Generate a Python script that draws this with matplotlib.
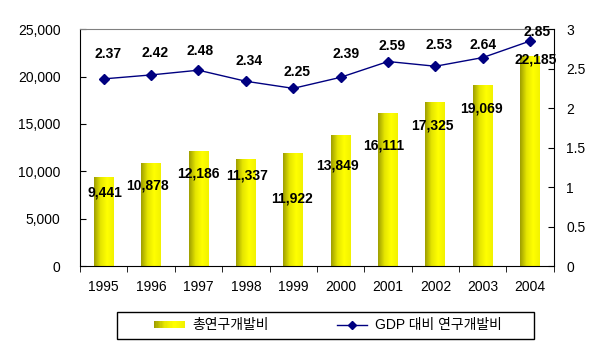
import numpy as np
import matplotlib.pyplot as plt
from matplotlib.colors import LinearSegmentedColormap
from matplotlib.legend_handler import HandlerBase
from matplotlib.patches import Rectangle
from matplotlib.lines import Line2D

plt.rcParams['font.family'] = ['Liberation Sans', 'Noto Sans CJK KR', 'DejaVu Sans']

# data
years = ['1995', '1996', '1997', '1998', '1999', '2000', '2001', '2002', '2003', '2004']
rnd_total = [9441, 10878, 12186, 11337, 11922, 13849, 16111, 17325, 19069, 22185]
rnd_gdp = [2.37, 2.42, 2.48, 2.34, 2.25, 2.39, 2.59, 2.53, 2.64, 2.85]

# label offsets in pixels (x, y) as placed in the original
bar_lab_dx = [1, -4, 0, 1, -1, -3, -4, -3, -1, 5]
bar_lab_dy = [-16, -23, -23, -17, -45, -31, -32, -24, -23, -4]
line_lab_dx = [4, 4, 2, 3, 4, 5, 4, 4, 0, 7]
line_lab_dy = [25, 22, 19, 20, 16, 23, 16, 21, 13, 9]

yellow = LinearSegmentedColormap.from_list('yel', ['#9E9E00', '#E6E600', '#FFFF00', '#F2F200'])
navy = '#000080'

fig = plt.figure(figsize=(6.06, 3.51), dpi=100)
ax = fig.add_axes([0.132, 0.242, 0.782, 0.675])
x = np.arange(len(years))

bars = ax.bar(x, rnd_total, width=0.42, facecolor='none', edgecolor='none')
grad = np.linspace(0, 1, 64).reshape(1, -1)
for b in bars:
    bx, bw, bh = b.get_x(), b.get_width(), b.get_height()
    im = ax.imshow(grad, extent=(bx, bx + bw, 0, bh), aspect='auto', cmap=yellow, zorder=2)
    im.set_clip_path(b)

ax.set_xlim(-0.5, len(years) - 0.5)
ax.set_ylim(0, 25000)
ax.set_yticks(range(0, 25001, 5000))
ax.set_yticklabels([f'{v:,}' for v in range(0, 25001, 5000)])
ax.set_xticks(x)
ax.set_xticklabels(years)
ax.set_xticks(np.arange(-0.5, len(years)), minor=True)
ax.tick_params(axis='x', which='major', length=0, pad=10, labelsize=10)
ax.tick_params(axis='x', which='minor', length=4, direction='out', color='black')
ax.tick_params(axis='y', direction='in', length=4, pad=14, labelsize=10)
ax.spines['top'].set_color('#808080')
ax.spines['right'].set_visible(False)

for i, v in enumerate(rnd_total):
    ax.annotate(f'{v:,}', (x[i], v), xytext=(bar_lab_dx[i], bar_lab_dy[i]),
                textcoords='offset pixels', ha='center', va='center',
                fontsize=10, fontweight='bold', zorder=5)

ax2 = ax.twinx()
ax2.plot(x, rnd_gdp, color=navy, lw=1, marker='D', ms=5, zorder=4)
ax2.set_ylim(0, 3)
ax2.set_yticks([0, 0.5, 1, 1.5, 2, 2.5, 3])
ax2.set_yticklabels(['0', '0.5', '1', '1.5', '2', '2.5', '3'])
ax2.tick_params(axis='y', direction='in', length=4, pad=9, labelsize=10)
ax2.spines['top'].set_visible(False)
ax2.spines['left'].set_visible(False)
ax2.spines['bottom'].set_visible(False)

for i, v in enumerate(rnd_gdp):
    ax2.annotate(f'{v:.2f}', (x[i], v), xytext=(line_lab_dx[i], line_lab_dy[i]),
                 textcoords='offset pixels', ha='center', va='center',
                 fontsize=10, fontweight='bold', zorder=5)


class GradientHandler(HandlerBase):
    def create_artists(self, legend, orig_handle, xdescent, ydescent,
                       width, height, fontsize, trans):
        n = 24
        arts = []
        h = height * 0.75
        y0 = -ydescent + (height - h) / 2
        for k in range(n):
            r = Rectangle((-xdescent + k * width / n, y0), width / n + 0.3, h,
                          facecolor=yellow(k / (n - 1)), edgecolor='none', transform=trans)
            arts.append(r)
        return arts


# legend frame drawn as a plain box
fig.patches.append(Rectangle((0.193, 0.034), 0.688, 0.077, transform=fig.transFigure,
                             facecolor='white', edgecolor='black', lw=1))

bar_handle = Rectangle((0, 0), 1, 1)
line_handle = Line2D([], [], color=navy, lw=1, marker='D', ms=4)
leg = fig.legend([bar_handle, line_handle], ['총연구개발비', 'GDP 대비 연구개발비'],
                 handler_map={Rectangle: GradientHandler()},
                 loc='center', bbox_to_anchor=(0.541, 0.073),
                 ncol=2, fontsize=10, frameon=False,
                 handlelength=2.2, handletextpad=0.55, columnspacing=4.9,
                 borderpad=0, borderaxespad=0)

fig.savefig('out.png', dpi=100)
